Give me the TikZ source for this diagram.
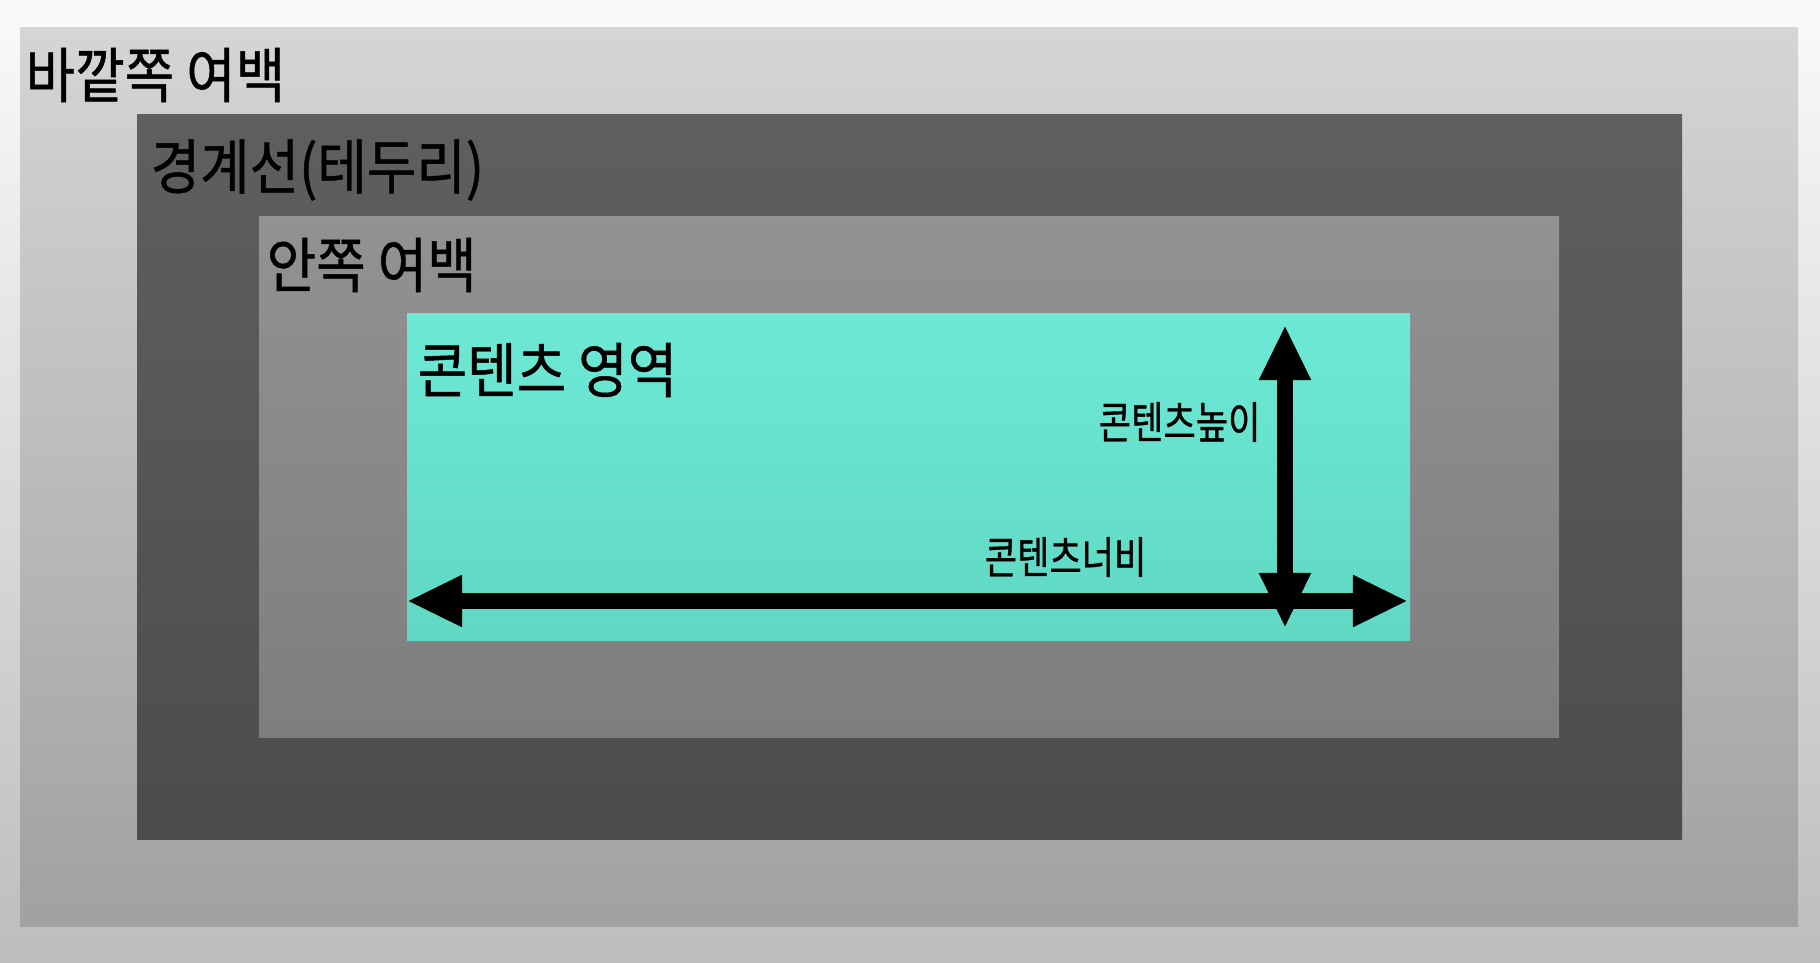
\documentclass[tikz,border=0pt]{standalone}
\usepackage{fontspec}
\usepackage{xcolor}
\usepackage{tikz}
\usetikzlibrary{arrows.meta}

\newfontfamily\krfont[FakeStretch=0.9, FakeBold=0.8]{Noto Sans CJK KR}
\newfontfamily\krsmall[FakeStretch=0.8, FakeBold=0.8]{Noto Sans CJK KR}

\definecolor{canvastop}{HTML}{FAFAFA}
\definecolor{canvasbot}{HTML}{BDBDBD}
\definecolor{margintop}{HTML}{D5D5D5}
\definecolor{marginbot}{HTML}{A1A1A1}
\definecolor{bordertop}{HTML}{5F5F5F}
\definecolor{borderbot}{HTML}{4C4C4C}
\definecolor{paddingtop}{HTML}{929292}
\definecolor{paddingbot}{HTML}{7E7E7E}
\definecolor{contenttop}{HTML}{6CE9D5}
\definecolor{contentbot}{HTML}{60D8C3}

\begin{document}
\begin{tikzpicture}[x=0.01cm, y=-0.01cm,
    biglabel/.style={anchor=west, inner sep=0pt, font=\krfont\fontsize{17}{20}\selectfont},
    smalllabel/.style={anchor=west, inner sep=0pt, font=\krsmall\fontsize{12.5}{15}\selectfont},
    measure/.style={line width=4.3pt, {Triangle[length=5.5mm,width=4.8mm]}-{Triangle[length=5.5mm,width=4.8mm]}}]
    \useasboundingbox (0,0) rectangle (1820,963);

    % Canvas
    \shade[top color=canvastop, bottom color=canvasbot] (0,0) rectangle (1820,963);

    % Outer margin
    \shade[top color=margintop, bottom color=marginbot] (20,27) rectangle (1798,926);
    \node[biglabel] (margin) at (25,75) {바깥쪽 여백};

    % Border
    \shade[top color=bordertop, bottom color=borderbot] (137,114) rectangle (1682,839);
    \node[biglabel] (border) at (150,170) {경계선(테두리)};

    % Padding
    \shade[top color=paddingtop, bottom color=paddingbot] (259,216) rectangle (1559,737);
    \node[biglabel] (padding) at (266,265) {안쪽 여백};

    % Content area
    \shade[top color=contenttop, bottom color=contentbot] (407,313) rectangle (1410,640);
    \node[biglabel] (content) at (417,370) {콘텐츠 영역};

    % Width and height
    \coordinate (wleft) at (407,601);
    \coordinate (wright) at (1408,601);
    \coordinate (htop) at (1285,325);
    \coordinate (hbottom) at (1285,628);
    \draw[measure] (wleft) -- (wright);
    \draw[measure] (htop) -- (hbottom);
    \node[smalllabel] (height) at (1098,422) {콘텐츠높이};
    \node[smalllabel] (width) at (984,557) {콘텐츠너비};
\end{tikzpicture}
\end{document}
